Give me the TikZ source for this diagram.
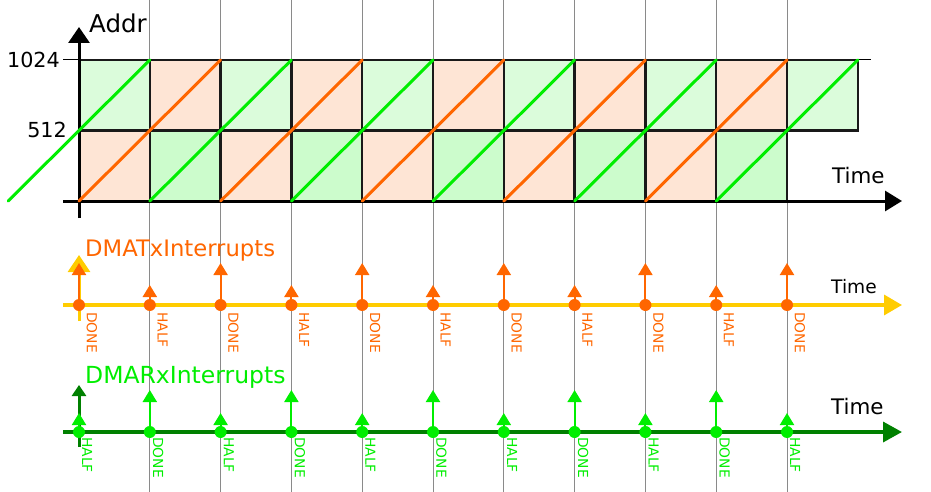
\documentclass[tikz,border=0pt]{standalone}
\usepackage{fontspec}
\setmainfont{DejaVu Sans}
\usetikzlibrary{arrows.meta}
\definecolor{lgA}{HTML}{DBFCDB}
\definecolor{lgB}{HTML}{CCFCCC}
\definecolor{orF}{HTML}{FEE5D5}
\definecolor{orL}{HTML}{FF6600}
\definecolor{grL}{HTML}{00EE00}
\definecolor{yel}{HTML}{FFCC00}
\definecolor{dgr}{HTML}{008000}
\definecolor{grd}{HTML}{8A8A8A}
\tikzset{
  cellA/.style={fill=lgA},
  cellB/.style={fill=lgB},
  cellO/.style={fill=orF},
  cellborder/.style={draw=black!90,line width=2.5},
  diag/.style={line width=3,line cap=round},
  axisline/.style={line width=3,-{Triangle[width=20pt,length=17pt]}},
  evarrow/.style={line width=2,-{Triangle[width=14pt,length=12pt]}},
  dot/.style={circle,inner sep=0,minimum size=12pt},
  lbl/.style={inner sep=0,anchor=base west},
  evlbl/.style={inner sep=0,anchor=south west,rotate=-90,font=\fontsize{13.8}{14}\selectfont},
  gridline/.style={grd,line width=1}
}
\begin{document}
\begin{tikzpicture}[x=1pt,y=-1pt]
\useasboundingbox (0,0) rectangle (931,492);
\def\dx{70.8}
% grid lines
\foreach \k in {1,...,10}{
  \draw[gridline] ({79+\dx*\k},0) -- ({79+\dx*\k},492);
}
% cells
\foreach \k in {0,...,10}{
  \pgfmathtruncatemacro{\ev}{mod(\k,2)}
  \ifnum\ev=0
    \fill[cellA] ({79+\dx*\k},60) rectangle ({79+\dx*(\k+1)},130.5);
  \else
    \fill[cellO] ({79+\dx*\k},60) rectangle ({79+\dx*(\k+1)},130.5);
  \fi
}
\foreach \k in {0,...,9}{
  \pgfmathtruncatemacro{\ev}{mod(\k,2)}
  \ifnum\ev=0
    \fill[cellO] ({79+\dx*\k},130.5) rectangle ({79+\dx*(\k+1)},201);
  \else
    \fill[cellB] ({79+\dx*\k},130.5) rectangle ({79+\dx*(\k+1)},201);
  \fi
}
\draw[line width=1] (63,60) -- (871,60);
\foreach \k in {0,...,10}{
  \draw[cellborder] ({79+\dx*\k},60) rectangle ({79+\dx*(\k+1)},130.5);
}
\foreach \k in {0,...,9}{
  \draw[cellborder] ({79+\dx*\k},130.5) rectangle ({79+\dx*(\k+1)},201);
}
% axes
\draw[axisline] (63,201) -- (902,201);
\draw[line width=3,-{Triangle[width=21pt,length=16pt]}] (79,218) -- (79,27);
% diagonals
\draw[diag,grL] ({79-\dx},201) -- ({79+\dx},60);
\foreach \k in {0,...,9}{
  \pgfmathtruncatemacro{\ev}{mod(\k,2)}
  \ifnum\ev=0
    \draw[diag,orL] ({79+\dx*\k},201) -- ({79+\dx*(\k+2)},60);
  \else
    \draw[diag,grL] ({79+\dx*\k},201) -- ({79+\dx*(\k+2)},60);
  \fi
}
% labels top
\node[lbl,font=\fontsize{24.5}{28}\selectfont] (addr) at (89,33) {Addr};
\node[lbl,font=\fontsize{21.4}{24}\selectfont] (time1) at (832,183) {Time};
\node[inner sep=0,anchor=base east,font=\fontsize{20.7}{24}\selectfont] (v1024) at (60,68) {1024};
\node[inner sep=0,anchor=base east,font=\fontsize{20.7}{24}\selectfont] (v512) at (67,137.5) {512};

% TX section
\node[lbl,orL,font=\fontsize{22.7}{26}\selectfont] (txlabel) at (85,256) {DMATxInterrupts};
\node[lbl,font=\fontsize{18.6}{22}\selectfont] (time2) at (831,293) {Time};
\draw[line width=3.5,yel,-{Triangle[width=20pt,length=18pt]}] (63,305) -- (902,305);
\draw[line width=3,yel,-{Triangle[width=22pt,length=17pt]}] (79,321) -- (79,255);
\foreach \k in {0,...,10}{
  \pgfmathtruncatemacro{\ev}{mod(\k,2)}
  \ifnum\ev=0
    \draw[evarrow,orL] ({79+\dx*\k},305) -- ({79+\dx*\k},263);
    \node[evlbl,text=orL] (tx\k) at ({86.5+\dx*\k},312) {DONE};
  \else
    \draw[evarrow,orL] ({79+\dx*\k},305) -- ({79+\dx*\k},285);
    \node[evlbl,text=orL] (tx\k) at ({86.5+\dx*\k},312) {HALF};
  \fi
  \node[dot,fill=orL] (txd\k) at ({79+\dx*\k},305) {};
}

% RX section
\node[lbl,grL,font=\fontsize{23.5}{26}\selectfont] (rxlabel) at (85,383) {DMARxInterrupts};
\node[lbl,font=\fontsize{21.4}{24}\selectfont] (time3) at (831,414) {Time};
\draw[line width=3.5,dgr,-{Triangle[width=20pt,length=19pt]}] (63,432) -- (902,432);
\draw[line width=3,dgr,-{Triangle[width=14pt,length=11pt]}] (79,447) -- (79,385);
\foreach \k in {0,...,10}{
  \pgfmathtruncatemacro{\ev}{mod(\k,2)}
  \ifnum\ev=0
    \draw[evarrow,grL] ({79+\dx*\k},432) -- ({79+\dx*\k},413);
    \node[evlbl,text=grL] (rx\k) at ({82+\dx*\k},437) {HALF};
  \else
    \draw[evarrow,grL] ({79+\dx*\k},432) -- ({79+\dx*\k},390);
    \node[evlbl,text=grL] (rx\k) at ({82+\dx*\k},437) {DONE};
  \fi
  \node[dot,fill=grL] (rxd\k) at ({79+\dx*\k},432) {};
}
\end{tikzpicture}
\end{document}
